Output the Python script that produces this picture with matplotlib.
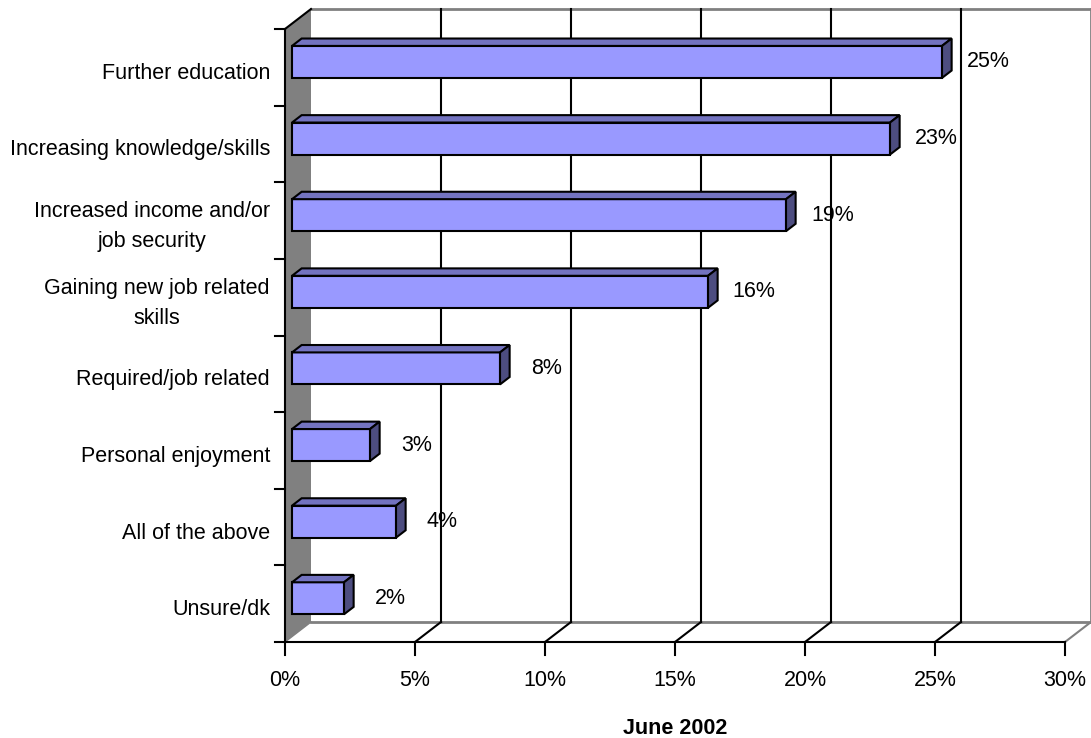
import matplotlib
matplotlib.use("Agg")
import matplotlib.pyplot as plt
from matplotlib.patches import Polygon

plt.rcParams['font.family'] = ['Liberation Sans', 'DejaVu Sans']

categories = ["Unsure/dk", "All of the above", "Personal enjoyment",
              "Required/job related", "Gaining new job related\nskills",
              "Increased income and/or\njob security",
              "Increasing knowledge/skills", "Further education"]
values = [2, 4, 3, 8, 16, 19, 23, 25]
value_labels = ["2%", "4%", "3%", "8%", "16%", "19%", "23%", "25%"]
xticks = [0, 5, 10, 15, 20, 25, 30]
xtick_labels = ["0%", "5%", "10%", "15%", "20%", "25%", "30%"]
xlabel = "June 2002"

W, H = 1091, 738
fig = plt.figure(figsize=(W / 100, H / 100), dpi=100)

# pixel scale helpers
PXX = 1 / 26.0          # % units per pixel
PXY = 1 / 76.625        # category units per pixel
DX = 26 * PXX           # depth offset in x (data units)
DY = 20 * PXY           # depth offset in y (data units)
N = len(categories)
XMAX = 30
FS = 15.5

ax = fig.add_axes([285 / W, 96 / H, 806 / W, 633 / H])
ax.set_xlim(0, XMAX + DX)
ax.set_ylim(0, N + DY)
ax.axis('off')


def P(v, y, d):
    return (v + DX * d, y + DY * d)


GRAY = '#808080'
LW = 1.5

# side wall
ax.add_patch(Polygon([P(0, 0, 0), P(0, 0, 1), P(0, N, 1), P(0, N, 0)],
                     closed=True, facecolor=GRAY, edgecolor='none', zorder=1, clip_on=False))
# back wall border
ax.plot(*zip(P(0, N, 1), P(XMAX, N, 1)), color=GRAY, lw=2, zorder=2, clip_on=False)
ax.plot(*zip(P(XMAX, 0, 1), P(XMAX, N, 1)), color=GRAY, lw=2, zorder=2, clip_on=False)
# floor back edge
ax.plot(*zip(P(0, 0, 1), P(XMAX, 0, 1)), color=GRAY, lw=2, zorder=2, clip_on=False)
ax.plot(*zip(P(0, 0, 0), P(0, 0, 1)), color=GRAY, lw=1.0, zorder=2, clip_on=False)
# gridlines on back wall + floor diagonals
for t in xticks[1:]:
    col = GRAY if t == XMAX else 'black'
    if t != XMAX:
        ax.plot(*zip(P(t, 0, 1), P(t, N, 1)), color='black', lw=LW, zorder=2, clip_on=False)
    ax.plot(*zip(P(t, 0, 0), P(t, 0, 1)), color=col, lw=LW, zorder=2, clip_on=False)
# top diagonal of side wall
ax.plot(*zip(P(0, N, 0), P(0, N, 1)), color='black', lw=LW, zorder=3, clip_on=False)
# front axes
ax.plot([0, XMAX], [0, 0], color='black', lw=LW, zorder=3, clip_on=False)
ax.plot([0, 0], [0, N], color='black', lw=LW, zorder=3, clip_on=False)
for t in xticks:
    ax.plot([t, t], [0, -13 * PXY], color='black', lw=LW, zorder=3, clip_on=False)
for k in range(N + 1):
    ax.plot([0, -10 * PXX], [k, k], color='black', lw=LW, zorder=3, clip_on=False)

# bars
FRONT = '#9999FF'
TOP = '#7373C0'
SIDE = '#4D4D80'
d0, d1 = 0.27, 0.64
h = 32 * PXY
for i, v in enumerate(values):
    y0 = i + 0.5 - h / 2
    y1 = i + 0.5 + h / 2
    faces = [
        ([P(0, y0, d0), P(v, y0, d0), P(v, y1, d0), P(0, y1, d0)], FRONT),
        ([P(0, y1, d0), P(v, y1, d0), P(v, y1, d1), P(0, y1, d1)], TOP),
        ([P(v, y0, d0), P(v, y0, d1), P(v, y1, d1), P(v, y1, d0)], SIDE),
    ]
    for pts, c in faces:
        ax.add_patch(Polygon(pts, closed=True, facecolor=c, edgecolor='black',
                             lw=1.5, joinstyle='miter', zorder=4, clip_on=False))
    ax.text(v + 2.05, i + 0.5 + DY * d0, value_labels[i], ha='center', va='center',
            fontsize=FS, zorder=5)

# category labels
for i, c in enumerate(categories):
    ax.text(-15 * PXX, i + 0.5 - 6 * PXY, c, ha='right', va='center', multialignment='center',
            fontsize=FS, linespacing=1.55)

# x tick labels
for t, lab in zip(xticks, xtick_labels):
    ax.text(t, -38 * PXY, lab, ha='center', va='center', fontsize=FS)

ax.text(XMAX / 2, -86 * PXY, xlabel, ha='center', va='center', fontsize=FS, fontweight='bold')

fig.savefig("out.png", dpi=100)
